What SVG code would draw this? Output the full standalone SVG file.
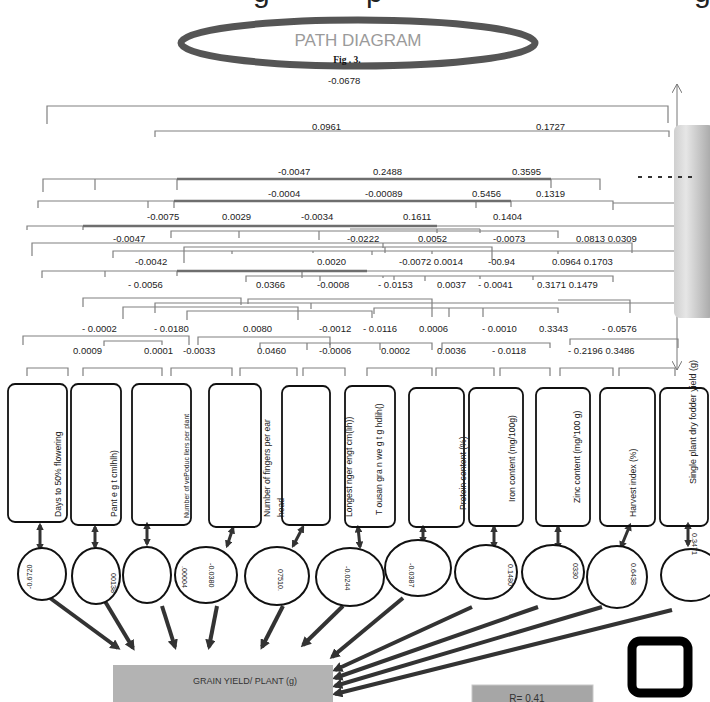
<svg xmlns="http://www.w3.org/2000/svg" width="710" height="702" viewBox="0 0 710 702">
<style>
.t{font-family:"Liberation Sans",Arial,sans-serif;font-size:9.5px;fill:#222}
.br{fill:none;stroke:#808080;stroke-width:1.2}
.bt{fill:none;stroke:#6e6e6e;stroke-width:2.6}
.box{fill:none;stroke:#111;stroke-width:1.8}
.vl{font-family:"Liberation Sans",Arial,sans-serif;font-size:8.6px;fill:#222}
.cir{fill:#fff;stroke:#111;stroke-width:2}
.cn{font-family:"Liberation Sans",Arial,sans-serif;font-size:7.2px;fill:#222}
.da{stroke:#333;stroke-width:3;marker-start:url(#ah);marker-end:url(#ah)}
.ga{stroke:#333;stroke-width:4;marker-end:url(#ah)}
.big{font-family:"Liberation Sans",Arial,sans-serif;font-size:30px;fill:#222}
</style>
<defs>
<marker id="ah" viewBox="0 0 10 10" refX="7" refY="5" markerWidth="2.6" markerHeight="2.6" orient="auto-start-reverse"><path d="M0,0 L10,5 L0,10 z" fill="#333"/></marker>
<marker id="oa" viewBox="0 0 10 10" refX="9" refY="5" markerWidth="10" markerHeight="10" markerUnits="userSpaceOnUse" orient="auto-start-reverse"><path d="M0,0 L9,5 L0,10" fill="none" stroke="#777" stroke-width="1"/></marker>
<linearGradient id="gb" x1="0" y1="0" x2="1" y2="0"><stop offset="0" stop-color="#cfcfcf"/><stop offset="0.3" stop-color="#e6e6e6"/><stop offset="1" stop-color="#a2a2a2"/></linearGradient>
</defs>
<rect width="710" height="702" fill="#fff"/>
<g id="topcut">
<text class="big" x="253" y="2">g</text>
<text class="big" x="366" y="2">p</text>
<text class="big" x="694" y="2">g</text>
</g>
<g id="title">
<ellipse cx="358" cy="43" rx="177" ry="23" fill="#fff" stroke="#555" stroke-width="7"/>
<text x="358" y="46" text-anchor="middle" font-family="Liberation Sans, Arial, sans-serif" font-size="17" fill="#9a9a9a" textLength="127" lengthAdjust="spacingAndGlyphs">PATH DIAGRAM</text>
<text x="347" y="63" text-anchor="middle" font-family="Liberation Serif, serif" font-weight="bold" font-size="9.5" fill="#111">Fig . 3.</text>
</g>
<g id="connectors">
<line x1="677" y1="84" x2="677" y2="370" stroke="#777" stroke-width="1" marker-start="url(#oa)" marker-end="url(#oa)"/>
<path class="br" d="M47 124V106H668V123"/>
<path class="br" d="M155 137V131H669V137"/>
<path class="br" d="M43 192V179H600V190M95 190V179M177 190V179M551 188V179"/>
<path class="bt" d="M177 179H551"/>
<path class="br" d="M38 208V201H613V210M148 208V201M174 208V201M476 208V201M511 207V201M613 203H675"/>
<path class="bt" d="M174 201H511"/>
<path class="br" d="M27 230V226H675M83 230V226M350 229H480M437 233V229M480 233V229"/>
<path class="bt" d="M83 226H437"/>
<path class="br" d="M171 238V231H558V238M239 238V231M319 240V231"/>
<path class="br" d="M32 256V243H632V253M383 248V243"/>
<path class="br" d="M184 263V247H492V260M385 253V247"/>
<path class="br" d="M113 258V251H675M232 254V251M313 253V251M372 255V251M432 254V251M558 254V251"/>
<path class="br" d="M42 278V271H675M105 277V271M302 278V271M177 276V271"/>
<path class="bt" d="M177 271H367"/>
<path class="br" d="M246 282V276H613V282M320 281V276M383 278V276M394 280V276M425 281V276M480 279V276M533 280V276"/>
<path class="br" d="M83 307V298H241V305"/>
<path class="br" d="M248 304V299H432V317"/>
<path class="br" d="M155 313V303H675M311 309V303"/>
<path class="br" d="M123 319V307H298V320"/>
<path class="br" d="M187 320V311H372V318"/>
<path class="br" d="M374 314V308H558V313M483 317V308M449 317V308"/>
<path class="br" d="M558 300H630V313"/>
<path class="br" d="M23 345V336H189V345"/>
<path class="br" d="M198 345V337H330V345"/>
<path class="br" d="M104 346V341H162V345"/>
<path class="br" d="M260 348V343H350M307 350V343M330 348V343"/>
<path class="br" d="M350 343H432V350M380 350V343"/>
<path class="br" d="M442 350V343H550V348"/>
<path class="br" d="M570 345V339H678V348"/>
<path class="br" d="M27 376V368H68V376M83 376V368H162V376M171 376V368H232V376M240 376V368H297V376M303 376V368H345V376M367 376V368H432V376M436 376V368H494V376M500 376V368H550V376M560 376V368H613V376M619 376V368H675V376"/>
<line class="da" x1="40" y1="525" x2="40" y2="549"/>
<line class="da" x1="95" y1="527" x2="95" y2="547"/>
<line class="da" x1="147" y1="524" x2="147" y2="544"/>
<line class="da" x1="233" y1="528" x2="227" y2="546"/>
<line class="da" x1="303" y1="527" x2="293" y2="546"/>
<line class="da" x1="358" y1="527" x2="360" y2="547"/>
<line class="da" x1="423" y1="527" x2="423" y2="542"/>
<line class="da" x1="494" y1="527" x2="494" y2="547"/>
<line class="da" x1="558" y1="527" x2="558" y2="548"/>
<line class="da" x1="630" y1="525" x2="621" y2="547"/>
<line class="da" x1="688" y1="524" x2="688" y2="545"/>
<line class="ga" x1="50" y1="598" x2="118" y2="648"/>
<line class="ga" x1="103" y1="598" x2="133" y2="648"/>
<line class="ga" x1="162" y1="606" x2="175" y2="647"/>
<line class="ga" x1="217" y1="606" x2="209" y2="647"/>
<line class="ga" x1="283" y1="606" x2="262" y2="647"/>
<line class="ga" x1="343" y1="606" x2="303" y2="645"/>
<line class="ga" x1="403" y1="598" x2="332" y2="657"/>
<line class="ga" x1="472" y1="607" x2="335" y2="670"/>
<line class="ga" x1="538" y1="607" x2="335" y2="678"/>
<line class="ga" x1="602" y1="607" x2="335" y2="686"/>
<line class="ga" x1="672" y1="610" x2="335" y2="694"/>
</g>
<g id="bar">
<rect x="674" y="125" width="40" height="193" rx="6" fill="url(#gb)"/>
<line x1="638" y1="177" x2="696" y2="177" stroke="#333" stroke-width="2" stroke-dasharray="4 6"/>
</g>
<g id="coefficients">
<text class="t" x="328" y="84">-0.0678</text>
<text class="t" x="312" y="130">0.0961</text>
<text class="t" x="536" y="130">0.1727</text>
<text class="t" x="278" y="175">-0.0047</text>
<text class="t" x="373" y="175">0.2488</text>
<text class="t" x="512" y="175">0.3595</text>
<text class="t" x="268" y="197">-0.0004</text>
<text class="t" x="365" y="197">-0.00089</text>
<text class="t" x="472" y="197">0.5456</text>
<text class="t" x="536" y="197">0.1319</text>
<text class="t" x="147" y="220">-0.0075</text>
<text class="t" x="222" y="220">0.0029</text>
<text class="t" x="301" y="220">-0.0034</text>
<text class="t" x="403" y="220">0.1611</text>
<text class="t" x="493" y="220">0.1404</text>
<text class="t" x="113" y="242">-0.0047</text>
<text class="t" x="347" y="242">-0.0222</text>
<text class="t" x="418" y="242">0.0052</text>
<text class="t" x="493" y="242">-0.0073</text>
<text class="t" x="576" y="242">0.0813 0.0309</text>
<text class="t" x="135" y="265">-0.0042</text>
<text class="t" x="317" y="265">0.0020</text>
<text class="t" x="399" y="265">-0.0072 0.0014</text>
<text class="t" x="488" y="265">-00.94</text>
<text class="t" x="552" y="265">0.0964 0.1703</text>
<text class="t" x="128" y="288">- 0.0056</text>
<text class="t" x="256" y="288">0.0366</text>
<text class="t" x="317" y="288">-0.0008</text>
<text class="t" x="378" y="288">- 0.0153</text>
<text class="t" x="437" y="288">0.0037</text>
<text class="t" x="478" y="288">- 0.0041</text>
<text class="t" x="537" y="288">0.3171 0.1479</text>
<text class="t" x="82" y="332">- 0.0002</text>
<text class="t" x="154" y="332">- 0.0180</text>
<text class="t" x="243" y="332">0.0080</text>
<text class="t" x="319" y="332">-0.0012</text>
<text class="t" x="363" y="332">- 0.0116</text>
<text class="t" x="419" y="332">0.0006</text>
<text class="t" x="482" y="332">- 0.0010</text>
<text class="t" x="539" y="332">0.3343</text>
<text class="t" x="602" y="332">- 0.0576</text>
<text class="t" x="73" y="354">0.0009</text>
<text class="t" x="144" y="354">0.0001</text>
<text class="t" x="183" y="354">-0.0033</text>
<text class="t" x="257" y="354">0.0460</text>
<text class="t" x="319" y="354">-0.0006</text>
<text class="t" x="381" y="354">0.0002</text>
<text class="t" x="437" y="354">0.0036</text>
<text class="t" x="492" y="354">- 0.0118</text>
<text class="t" x="568" y="354">- 0.2196 0.3486</text>
</g>
<g id="n1"><rect class="box" x="8" y="384" width="59" height="138" rx="7" stroke-width="1.1"/><text class="vl" transform="translate(61,517) rotate(-90)">Days to 50% flowering</text></g>
<g id="n2"><rect class="box" x="71" y="384" width="50" height="141" rx="7"/><text class="vl" transform="translate(117,517) rotate(-90)">Pant  e g t cmlhlh)</text></g>
<g id="n3"><rect class="box" x="132" y="384" width="59" height="141" rx="7"/><text class="vl" transform="translate(189,518) rotate(-90)" style="font-size:6.9px">Number of vePoduc llers per plant</text></g>
<g id="n4"><rect class="box" x="209" y="384" width="52" height="143" rx="7"/><text class="vl" transform="translate(270,517) rotate(-90)">Number of fingers per ear</text><text class="vl" transform="translate(284,517) rotate(-90)">head</text></g>
<g id="n5"><rect class="box" x="282" y="386" width="48" height="139" rx="7"/><text class="vl" transform="translate(352,517) rotate(-90)">Longest  nger engt cm(lih))</text></g>
<g id="n6"><rect class="box" x="345" y="386" width="50" height="141" rx="7"/><text class="vl" transform="translate(382,515) rotate(-90)">T ousan gra n we g t g hdlih()</text></g>
<g id="n7"><rect class="box" x="409" y="388" width="55" height="139" rx="7"/><text class="vl" transform="translate(466,510) rotate(-90)">Protein content (%)</text></g>
<g id="n8"><rect class="box" x="469" y="388" width="54" height="138" rx="7"/><text class="vl" transform="translate(515,502) rotate(-90)">Iron content (mg/100g)</text></g>
<g id="n9"><rect class="box" x="536" y="388" width="54" height="138" rx="7"/><text class="vl" transform="translate(580,503) rotate(-90)">Zinc content (mg/'100 g)</text></g>
<g id="n10"><rect class="box" x="600" y="388" width="55" height="138" rx="7"/><text class="vl" transform="translate(636,517) rotate(-90)">Harvest index (%)</text></g>
<g id="n11"><rect class="box" x="660" y="388" width="48" height="138" rx="7"/><text class="vl" transform="translate(696,484) rotate(-90)" textLength="124" lengthAdjust="spacingAndGlyphs">Single plant dry fodder yield (g)</text></g>
<g id="c1"><ellipse class="cir" cx="42" cy="574" rx="24" ry="26"/><text class="cn" transform="translate(32,589) rotate(-90)">-0.6720</text></g>
<g id="c2"><ellipse class="cir" cx="96" cy="576" rx="24" ry="28"/><text class="cn" transform="translate(111,573) rotate(90)">00138</text></g>
<g id="c3"><ellipse class="cir" cx="147" cy="575" rx="24" ry="28"/></g>
<g id="c4"><ellipse class="cir" cx="206" cy="575" rx="31" ry="28"/><text class="cn" transform="translate(182,566) rotate(90)">.00004</text><text class="cn" transform="translate(209,563) rotate(90)">-0.0380</text></g>
<g id="c5"><ellipse class="cir" cx="277" cy="576" rx="32" ry="29"/><text class="cn" transform="translate(278,569) rotate(90)">07510.</text></g>
<g id="c6"><ellipse class="cir" cx="350" cy="577" rx="34" ry="29"/><text class="cn" transform="translate(345,566) rotate(90)">-0.0244</text></g>
<g id="c7"><ellipse class="cir" cx="418" cy="568" rx="33" ry="28"/><text class="cn" transform="translate(409,563) rotate(90)">-0.0387</text></g>
<g id="c8"><ellipse class="cir" cx="486" cy="572" rx="31" ry="27"/><text class="cn" transform="translate(508,564) rotate(90)">0.1480</text></g>
<g id="c9"><ellipse class="cir" cx="553" cy="572" rx="31" ry="27"/><text class="cn" transform="translate(573,563) rotate(90)">0330</text></g>
<g id="c10"><ellipse class="cir" cx="617" cy="577" rx="30" ry="31"/><text class="cn" transform="translate(631,563) rotate(90)">0.6438</text></g>
<g id="c11"><ellipse class="cir" cx="691" cy="575" rx="30" ry="26"/><text class="cn" transform="translate(692,533) rotate(90)">0.3471</text></g>
<g id="grain"><rect x="113" y="665" width="220" height="40" fill="#b3b3b3"/><text x="245" y="684" text-anchor="middle" font-family="Liberation Sans, Arial, sans-serif" font-size="9" fill="#333">GRAIN YIELD/ PLANT (g)</text></g>
<g id="rbox"><rect x="472" y="685" width="121" height="20" fill="#a6a6a6" stroke="#c8c8c8"/><text x="527" y="702" text-anchor="middle" font-family="Liberation Sans, Arial, sans-serif" font-size="10" fill="#333">R= 0.41</text></g>
<g id="square"><rect x="632" y="641" width="56" height="52" rx="8" fill="none" stroke="#000" stroke-width="9"/></g>
</svg>
